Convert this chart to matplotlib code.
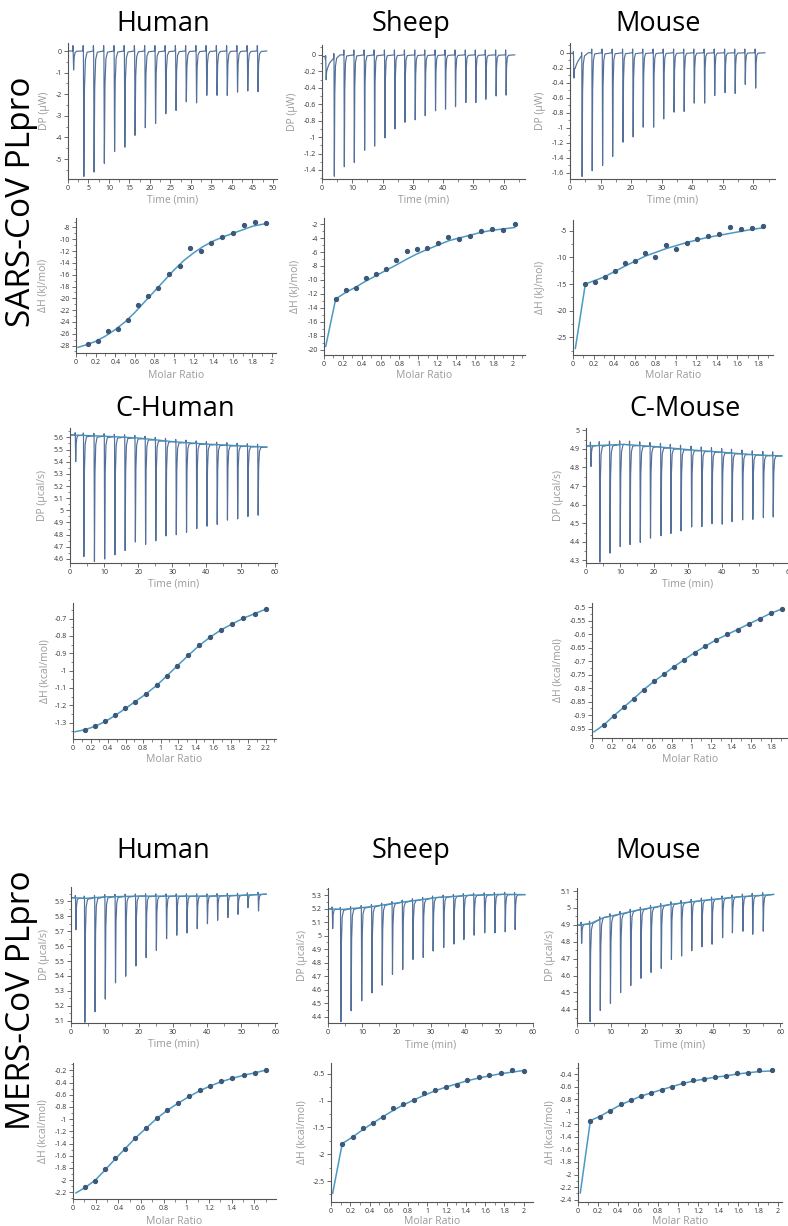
import numpy as np
import matplotlib
matplotlib.use("Agg")
import matplotlib.pyplot as plt
from matplotlib.ticker import MultipleLocator, AutoMinorLocator, FuncFormatter

plt.rcParams['font.family'] = ['Open Sans', 'DejaVu Sans']

# ---------------- raw thermograms: injection times (min) and peak minima ----------------
sars_hum_t = [1.2, 3.7, 6.2, 8.7, 11.2, 13.7, 16.2, 18.7, 21.2, 23.7, 26.2, 28.7, 31.2, 33.7, 36.2, 38.7, 41.2, 43.7, 46.2]
sars_hum_dp = [-0.88, -5.8, -5.6, -5.2, -4.65, -4.45, -3.9, -3.55, -3.35, -2.9, -2.75, -2.35, -2.4, -2.05, -2.05, -2.05, -1.9, -1.85, -1.88]
sars_hum_base_t = [0, 48.5]
sars_hum_base = [0.0, 0.0]

sars_shp_t = [1.2, 3.9, 7.2, 10.5, 13.9, 17.2, 20.6, 23.9, 27.2, 30.6, 33.9, 37.3, 40.6, 43.9, 47.3, 50.6, 53.9, 57.3, 60.6]
sars_shp_dp = [-0.26, -1.48, -1.36, -1.31, -1.16, -1.11, -1.01, -0.90, -0.82, -0.79, -0.74, -0.68, -0.66, -0.63, -0.58, -0.58, -0.54, -0.50, -0.49]
sars_shp_base_t = [0, 1.0, 1.6, 2.5, 3.6, 6.0, 63.6]
sars_shp_base = [-0.02, -0.02, -0.17, -0.10, -0.05, 0.0, 0.0]

sars_mou_t = [1.1, 3.8, 7.1, 10.5, 13.8, 17.2, 20.5, 23.8, 27.2, 30.5, 33.9, 37.2, 40.5, 43.9, 47.2, 50.6, 53.9, 57.2, 60.6]
sars_mou_dp = [-0.28, -1.65, -1.57, -1.50, -1.38, -1.19, -1.12, -0.99, -0.99, -0.88, -0.79, -0.78, -0.67, -0.67, -0.57, -0.53, -0.54, -0.42, -0.47]
sars_mou_base_t = [0, 1.0, 1.6, 2.5, 3.6, 6.0, 63.8]
sars_mou_base = [0.0, 0.0, -0.20, -0.12, -0.05, 0.0, 0.0]

c_hum_t = [1.5, 3.9, 7.0, 10.0, 13.0, 16.0, 19.0, 22.0, 25.0, 28.0, 31.0, 34.0, 37.0, 40.0, 43.0, 46.0, 49.0, 52.0, 55.0]
c_hum_dp = [5.40, 4.62, 4.58, 4.60, 4.635, 4.67, 4.74, 4.72, 4.75, 4.79, 4.80, 4.82, 4.85, 4.87, 4.885, 4.92, 4.93, 4.95, 4.96]
c_hum_base_t = [0, 10, 20, 30, 40, 50, 57.7]
c_hum_base = [5.62, 5.61, 5.595, 5.565, 5.545, 5.53, 5.52]

c_mou_t = [1.3, 3.9, 6.9, 9.9, 12.8, 15.8, 18.8, 21.9, 24.8, 27.8, 30.9, 33.9, 36.9, 39.9, 42.8, 45.9, 48.9, 52.0, 54.9]
c_mou_dp = [4.805, 4.291, 4.339, 4.374, 4.385, 4.397, 4.42, 4.433, 4.445, 4.459, 4.48, 4.482, 4.498, 4.495, 4.509, 4.518, 4.521, 4.53, 4.534]
c_mou_base_t = [0, 11, 21, 31, 40.5, 50.3, 57.6]
c_mou_base = [4.915, 4.924, 4.911, 4.894, 4.881, 4.867, 4.862]

mers_hum_t = [1.27, 3.9, 6.9, 9.9, 12.9, 15.9, 18.9, 21.9, 24.9, 27.9, 30.9, 33.9, 36.9, 39.9, 42.9, 45.9, 48.9, 51.8, 54.9]
mers_hum_dp = [5.71, 5.09, 5.16, 5.245, 5.354, 5.398, 5.467, 5.523, 5.572, 5.65, 5.673, 5.688, 5.717, 5.75, 5.773, 5.791, 5.813, 5.858, 5.835]
mers_hum_base_t = [0, 4, 10, 20, 30, 40, 50, 57.3]
mers_hum_base = [5.925, 5.92, 5.93, 5.935, 5.935, 5.935, 5.94, 5.948]

mers_shp_t = [1.2, 3.6, 6.6, 9.7, 12.7, 15.7, 18.7, 21.7, 24.7, 27.7, 30.6, 33.7, 36.7, 39.6, 42.6, 45.7, 48.7, 51.7, 54.6]
mers_shp_dp = [5.053, 4.362, 4.443, 4.517, 4.576, 4.633, 4.713, 4.75, 4.824, 4.839, 4.886, 4.913, 4.938, 4.972, 5.004, 5.021, 5.021, 5.029, 5.046]
mers_shp_base_t = [0, 4, 12.2, 22, 31.7, 41.5, 51.2, 57.6]
mers_shp_base = [5.20, 5.195, 5.214, 5.25, 5.283, 5.30, 5.307, 5.305]

mers_mou_t = [1.2, 3.7, 6.7, 9.7, 12.7, 15.7, 18.7, 21.7, 24.7, 27.7, 30.7, 33.7, 36.7, 39.7, 42.8, 45.7, 48.8, 51.7, 54.8]
mers_mou_dp = [4.79, 4.327, 4.392, 4.435, 4.498, 4.54, 4.583, 4.618, 4.642, 4.695, 4.715, 4.746, 4.77, 4.785, 4.823, 4.852, 4.862, 4.844, 4.862]
mers_mou_base_t = [0, 3.9, 7.9, 17.7, 27.5, 37.4, 47.2, 57, 58]
mers_mou_base = [4.897, 4.907, 4.943, 4.986, 5.021, 5.045, 5.065, 5.078, 5.08]

# ---------------- integrated heats (molar ratio, dH) and fitted curves ----------------
sars_hum_mr = [0.123, 0.225, 0.328, 0.43, 0.532, 0.635, 0.737, 0.84, 0.952, 1.06, 1.164, 1.273, 1.375, 1.488, 1.6, 1.717, 1.83, 1.94]
sars_hum_dh = [-27.66, -27.15, -25.6, -25.2, -23.7, -21.2, -19.6, -18.3, -15.8, -14.55, -11.56, -12.0, -10.6, -9.6, -8.97, -7.54, -7.14, -7.3]
sars_hum_fit_x = [0.02, 0.1, 0.2, 0.3, 0.4, 0.5, 0.6, 0.7, 0.8, 0.9, 1.0, 1.1, 1.2, 1.3, 1.4, 1.5, 1.6, 1.7, 1.8, 1.95]
sars_hum_fit_y = [-28.3, -27.9, -27.3, -26.4, -25.3, -24.0, -22.4, -20.6, -18.8, -17.0, -15.2, -13.6, -12.3, -11.2, -10.3, -9.6, -9.0, -8.4, -7.8, -7.3]

sars_shp_mr = [0.124, 0.238, 0.337, 0.45, 0.55, 0.656, 0.762, 0.876, 0.982, 1.096, 1.206, 1.319, 1.433, 1.55, 1.663, 1.78, 1.897, 2.02]
sars_shp_dh = [-12.75, -11.46, -11.17, -9.78, -9.12, -8.45, -7.2, -5.92, -5.63, -5.39, -4.77, -3.91, -4.15, -3.77, -2.96, -2.76, -2.86, -2.0]
sars_shp_fit_x = [0.018, 0.124, 0.24, 0.34, 0.45, 0.55, 0.66, 0.76, 0.88, 0.98, 1.1, 1.21, 1.32, 1.43, 1.55, 1.66, 1.78, 1.9, 2.02]
sars_shp_fit_y = [-19.5, -12.7, -11.7, -11.0, -10.1, -9.4, -8.6, -7.9, -7.0, -6.3, -5.6, -5.0, -4.4, -4.0, -3.6, -3.2, -2.9, -2.7, -2.5]

sars_mou_mr = [0.12, 0.211, 0.308, 0.405, 0.503, 0.603, 0.704, 0.801, 0.902, 1.005, 1.106, 1.21, 1.314, 1.42, 1.524, 1.63, 1.745, 1.849]
sars_mou_dh = [-15.06, -14.69, -13.75, -12.63, -11.0, -10.63, -9.25, -9.88, -7.75, -8.44, -7.31, -6.5, -6.0, -5.56, -4.31, -4.63, -4.44, -4.06]
sars_mou_fit_x = [0.023, 0.12, 0.3, 0.5, 0.7, 0.9, 1.1, 1.3, 1.5, 1.7, 1.85]
sars_mou_fit_y = [-27.06, -15.0, -13.7, -11.7, -9.8, -8.4, -7.25, -6.3, -5.6, -4.9, -4.45]

c_hum_mr = [0.141, 0.255, 0.369, 0.483, 0.598, 0.712, 0.834, 0.955, 1.07, 1.191, 1.317, 1.439, 1.568, 1.694, 1.82, 1.945, 2.075, 2.2]
c_hum_dh = [-1.342, -1.321, -1.292, -1.258, -1.217, -1.179, -1.135, -1.085, -1.031, -0.971, -0.912, -0.854, -0.806, -0.763, -0.733, -0.694, -0.675, -0.644]
c_hum_fit_x = [0.023] + c_hum_mr
c_hum_fit_y = [-1.352, -1.340, -1.320, -1.293, -1.258, -1.218, -1.178, -1.134, -1.085, -1.031, -0.972, -0.912, -0.856, -0.806, -0.764, -0.73, -0.698, -0.671, -0.646]

c_mou_mr = [0.118, 0.218, 0.319, 0.42, 0.52, 0.621, 0.722, 0.823, 0.927, 1.031, 1.138, 1.246, 1.357, 1.464, 1.575, 1.686, 1.796, 1.911]
c_mou_dh = [-0.936, -0.902, -0.871, -0.839, -0.806, -0.774, -0.749, -0.721, -0.695, -0.669, -0.644, -0.622, -0.6, -0.584, -0.564, -0.543, -0.522, -0.507]
c_mou_fit_x = [0.02] + c_mou_mr
c_mou_fit_y = [-0.962, -0.937, -0.903, -0.871, -0.839, -0.806, -0.776, -0.749, -0.721, -0.695, -0.669, -0.645, -0.622, -0.602, -0.583, -0.563, -0.543, -0.523, -0.507]

mers_hum_mr = [0.109, 0.197, 0.285, 0.374, 0.462, 0.55, 0.644, 0.738, 0.832, 0.926, 1.024, 1.118, 1.212, 1.309, 1.406, 1.506, 1.606, 1.703]
mers_hum_dh = [-2.113, -2.009, -1.812, -1.632, -1.484, -1.309, -1.151, -0.987, -0.845, -0.741, -0.626, -0.528, -0.451, -0.38, -0.326, -0.282, -0.244, -0.189]
mers_hum_fit_x = [0.026] + mers_hum_mr
mers_hum_fit_y = [-2.21, -2.12, -2.0, -1.83, -1.65, -1.48, -1.31, -1.15, -0.99, -0.855, -0.74, -0.63, -0.535, -0.455, -0.385, -0.33, -0.28, -0.24, -0.195]

mers_shp_mr = [0.117, 0.224, 0.331, 0.434, 0.541, 0.648, 0.752, 0.859, 0.969, 1.079, 1.19, 1.303, 1.417, 1.534, 1.645, 1.762, 1.879, 2.0]
mers_shp_dh = [-1.815, -1.678, -1.503, -1.416, -1.304, -1.142, -1.073, -0.998, -0.867, -0.798, -0.749, -0.712, -0.612, -0.569, -0.525, -0.481, -0.431, -0.45]
mers_shp_fit_x = [0.017] + mers_shp_mr
mers_shp_fit_y = [-2.73, -1.80, -1.68, -1.54, -1.42, -1.30, -1.18, -1.08, -0.99, -0.90, -0.82, -0.75, -0.69, -0.63, -0.58, -0.54, -0.50, -0.47, -0.44]

mers_mou_mr = [0.124, 0.224, 0.324, 0.425, 0.528, 0.632, 0.732, 0.836, 0.94, 1.047, 1.154, 1.261, 1.371, 1.478, 1.589, 1.699, 1.813, 1.943]
mers_mou_dh = [-1.141, -1.077, -0.981, -0.88, -0.811, -0.752, -0.709, -0.656, -0.603, -0.544, -0.501, -0.475, -0.448, -0.432, -0.389, -0.379, -0.336, -0.336]
mers_mou_fit_x = [0.023] + mers_mou_mr
mers_mou_fit_y = [-2.293, -1.14, -1.07, -0.98, -0.89, -0.82, -0.75, -0.70, -0.65, -0.60, -0.55, -0.51, -0.48, -0.45, -0.43, -0.40, -0.38, -0.36, -0.35]

W, H = 788, 1226
RAW = '#52709a'
BASE = '#4690ba'
PT = '#3d5878'
FIT = '#4a9ac4'

fig = plt.figure(figsize=(W / 100, H / 100), dpi=100)


def fmt(v, pos):
    return '{:g}'.format(round(v, 4))


def panel(box, xlim, ylim, xmaj, ymaj, xlabel, ylabel, ylab_x, xlab_y):
    l, t, r, b = box
    ax = fig.add_axes([l / W, 1 - b / H, (r - l) / W, (b - t) / H])
    ax.set_xlim(xlim)
    ax.set_ylim(ylim)
    ax.xaxis.set_major_locator(MultipleLocator(xmaj))
    ax.yaxis.set_major_locator(MultipleLocator(ymaj))
    ax.xaxis.set_minor_locator(AutoMinorLocator(2))
    ax.yaxis.set_minor_locator(AutoMinorLocator(2))
    ax.xaxis.set_major_formatter(FuncFormatter(fmt))
    ax.yaxis.set_major_formatter(FuncFormatter(fmt))
    for s in ('top', 'right'):
        ax.spines[s].set_visible(False)
    for s in ('left', 'bottom'):
        ax.spines[s].set_color('#555555')
        ax.spines[s].set_linewidth(0.8)
    ax.tick_params(which='major', length=3, width=0.6, color='#555555', labelsize=5,
                   labelcolor='#333333', pad=1.5)
    ax.tick_params(which='minor', length=1.8, width=0.5, color='#555555')
    ax.set_xlabel(xlabel, color='#9a9a9a', fontsize=7.5)
    ax.set_ylabel(ylabel, color='#9a9a9a', fontsize=7.5)
    ax.xaxis.label.set_verticalalignment('center')
    ax.yaxis.label.set_verticalalignment('center')
    ax.xaxis.set_label_coords(0.5, (b - xlab_y) / (b - t))
    ax.yaxis.set_label_coords((ylab_x - l) / (r - l), 0.5)
    return ax


def thermogram(ax, t_inj, dp, base_t, base_v, up, baseline=False):
    pts = []
    for t, v in zip(base_t, base_v):
        if not any(ti - 0.1 <= t <= ti + 1.0 for ti in t_inj):
            pts.append((t, v))
    for ti, di in zip(t_inj, dp):
        bi = np.interp(ti, base_t, base_v)
        amp = di - bi
        for dt, f, extra in [(-0.06, 0, 0), (0.0, 0, up), (0.06, 0, 0), (0.17, 1, 0),
                             (0.32, 0.3, 0), (0.55, 0.07, 0), (0.95, 0.01, 0)]:
            tt = ti + dt
            pts.append((tt, np.interp(tt, base_t, base_v) + f * amp + extra))
    pts.sort()
    xs, ys = zip(*pts)
    ax.plot(xs, ys, color=RAW, lw=0.85, solid_joinstyle='round')
    if baseline:
        ax.plot(base_t, base_v, color=BASE, lw=1.0)


def heats(ax, mr, dh, fx, fy):
    ax.plot(fx, fy, color=FIT, lw=1.1)
    ax.plot(mr, dh, 'o', ms=2.8, color=PT, mec=PT)


T = 'Time (min)'
M = 'Molar Ratio'

# SARS-CoV PLpro
ax = panel((68, 43, 277, 179), (0, 51), (-5.92, 0.37), 5, 1, T, 'DP (μW)', 45, 200)
thermogram(ax, sars_hum_t, sars_hum_dp, sars_hum_base_t, sars_hum_base, 0.25)
ax = panel((322, 45, 525, 179), (0, 67), (-1.51, 0.12), 10, 0.2, T, 'DP (μW)', 293, 200)
thermogram(ax, sars_shp_t, sars_shp_dp, sars_shp_base_t, sars_shp_base, 0.06)
ax = panel((570, 43, 775, 179), (0, 67.1), (-1.68, 0.13), 10, 0.2, T, 'DP (μW)', 540, 200)
thermogram(ax, sars_mou_t, sars_mou_dp, sars_mou_base_t, sars_mou_base, 0.05)

ax = panel((76, 218, 276, 353), (0, 2.04), (-29.26, -6.4), 0.2, 2, M, 'ΔH (kJ/mol)', 43, 375)
heats(ax, sars_hum_mr, sars_hum_dh, sars_hum_fit_x, sars_hum_fit_y)
ax = panel((324, 218, 525, 355), (0, 2.13), (-20.72, -1.14), 0.2, 2, M, 'ΔH (kJ/mol)', 295, 375)
heats(ax, sars_shp_mr, sars_shp_dh, sars_shp_fit_x, sars_shp_fit_y)
ax = panel((573, 220, 773, 355), (0, 1.946), (-28.3, -3.0), 0.2, 5, M, 'ΔH (kJ/mol)', 540, 375)
heats(ax, sars_mou_mr, sars_mou_dh, sars_mou_fit_x, sars_mou_fit_y)

# C-Human / C-Mouse
ax = panel((70, 428, 277, 563), (0, 60.7), (4.567, 5.677), 10, 0.1, T, 'DP (μcal/s)', 43, 584)
thermogram(ax, c_hum_t, c_hum_dp, c_hum_base_t, c_hum_base, 0.02, baseline=True)
ax = panel((586, 428, 790, 563), (0, 60), (4.286, 5.012), 10, 0.1, T, 'DP (μcal/s)', 558, 584)
thermogram(ax, c_mou_t, c_mou_dp, c_mou_base_t, c_mou_base, 0.02, baseline=True)

ax = panel((73, 603, 276, 739), (0, 2.318), (-1.394, -0.61), 0.2, 0.1, M, 'ΔH (kcal/mol)', 45, 760)
heats(ax, c_hum_mr, c_hum_dh, c_hum_fit_x, c_hum_fit_y)
ax = panel((592, 603, 788, 738), (0, 1.97), (-0.985, -0.485), 0.2, 0.05, M, 'ΔH (kcal/mol)', 558, 760)
heats(ax, c_mou_mr, c_mou_dh, c_mou_fit_x, c_mou_fit_y)

# MERS-CoV PLpro
ax = panel((71, 887, 277, 1023), (0, 60.5), (5.085, 5.996), 10, 0.1, T, 'DP (μcal/s)', 45, 1044)
thermogram(ax, mers_hum_t, mers_hum_dp, mers_hum_base_t, mers_hum_base, 0.015, baseline=True)
ax = panel((328, 888, 533, 1023), (0, 60), (4.353, 5.354), 10, 0.1, T, 'DP (μcal/s)', 302, 1045)
thermogram(ax, mers_shp_t, mers_shp_dp, mers_shp_base_t, mers_shp_base, 0.015, baseline=True)
ax = panel((577, 888, 782, 1023), (0, 60.5), (4.319, 5.118), 10, 0.1, T, 'DP (μcal/s)', 550, 1045)
thermogram(ax, mers_mou_t, mers_mou_dp, mers_mou_base_t, mers_mou_base, 0.015, baseline=True)

ax = panel((73, 1063, 276, 1199), (0, 1.79), (-2.31, -0.08), 0.2, 0.2, M, 'ΔH (kcal/mol)', 43, 1221)
heats(ax, mers_hum_mr, mers_hum_dh, mers_hum_fit_x, mers_hum_fit_y)
ax = panel((331, 1063, 533, 1202), (0, 2.097), (-2.89, -0.30), 0.2, 0.5, M, 'ΔH (kcal/mol)', 302, 1222)
heats(ax, mers_shp_mr, mers_shp_dh, mers_shp_fit_x, mers_shp_fit_y)
ax = panel((578, 1063, 782, 1202), (0, 2.04), (-2.437, -0.224), 0.2, 0.2, M, 'ΔH (kcal/mol)', 550, 1222)
heats(ax, mers_mou_mr, mers_mou_dh, mers_mou_fit_x, mers_mou_fit_y)

# titles and row labels
titles = [('Human', 163, 24), ('Sheep', 411, 24), ('Mouse', 658, 24),
          ('C-Human', 175, 409), ('C-Mouse', 685, 409),
          ('Human', 163, 851), ('Sheep', 411, 851), ('Mouse', 658, 851)]
for txt, x, y in titles:
    fig.text(x / W, 1 - y / H, txt, ha='center', va='center', fontsize=19.5, color='black')

fig.text(22 / W, 1 - 202 / H, 'SARS-CoV PLpro', rotation=90, ha='center', va='center', fontsize=24)
fig.text(22 / W, 1 - 1000 / H, 'MERS-CoV PLpro', rotation=90, ha='center', va='center', fontsize=24)

fig.savefig('out.png', dpi=100)
